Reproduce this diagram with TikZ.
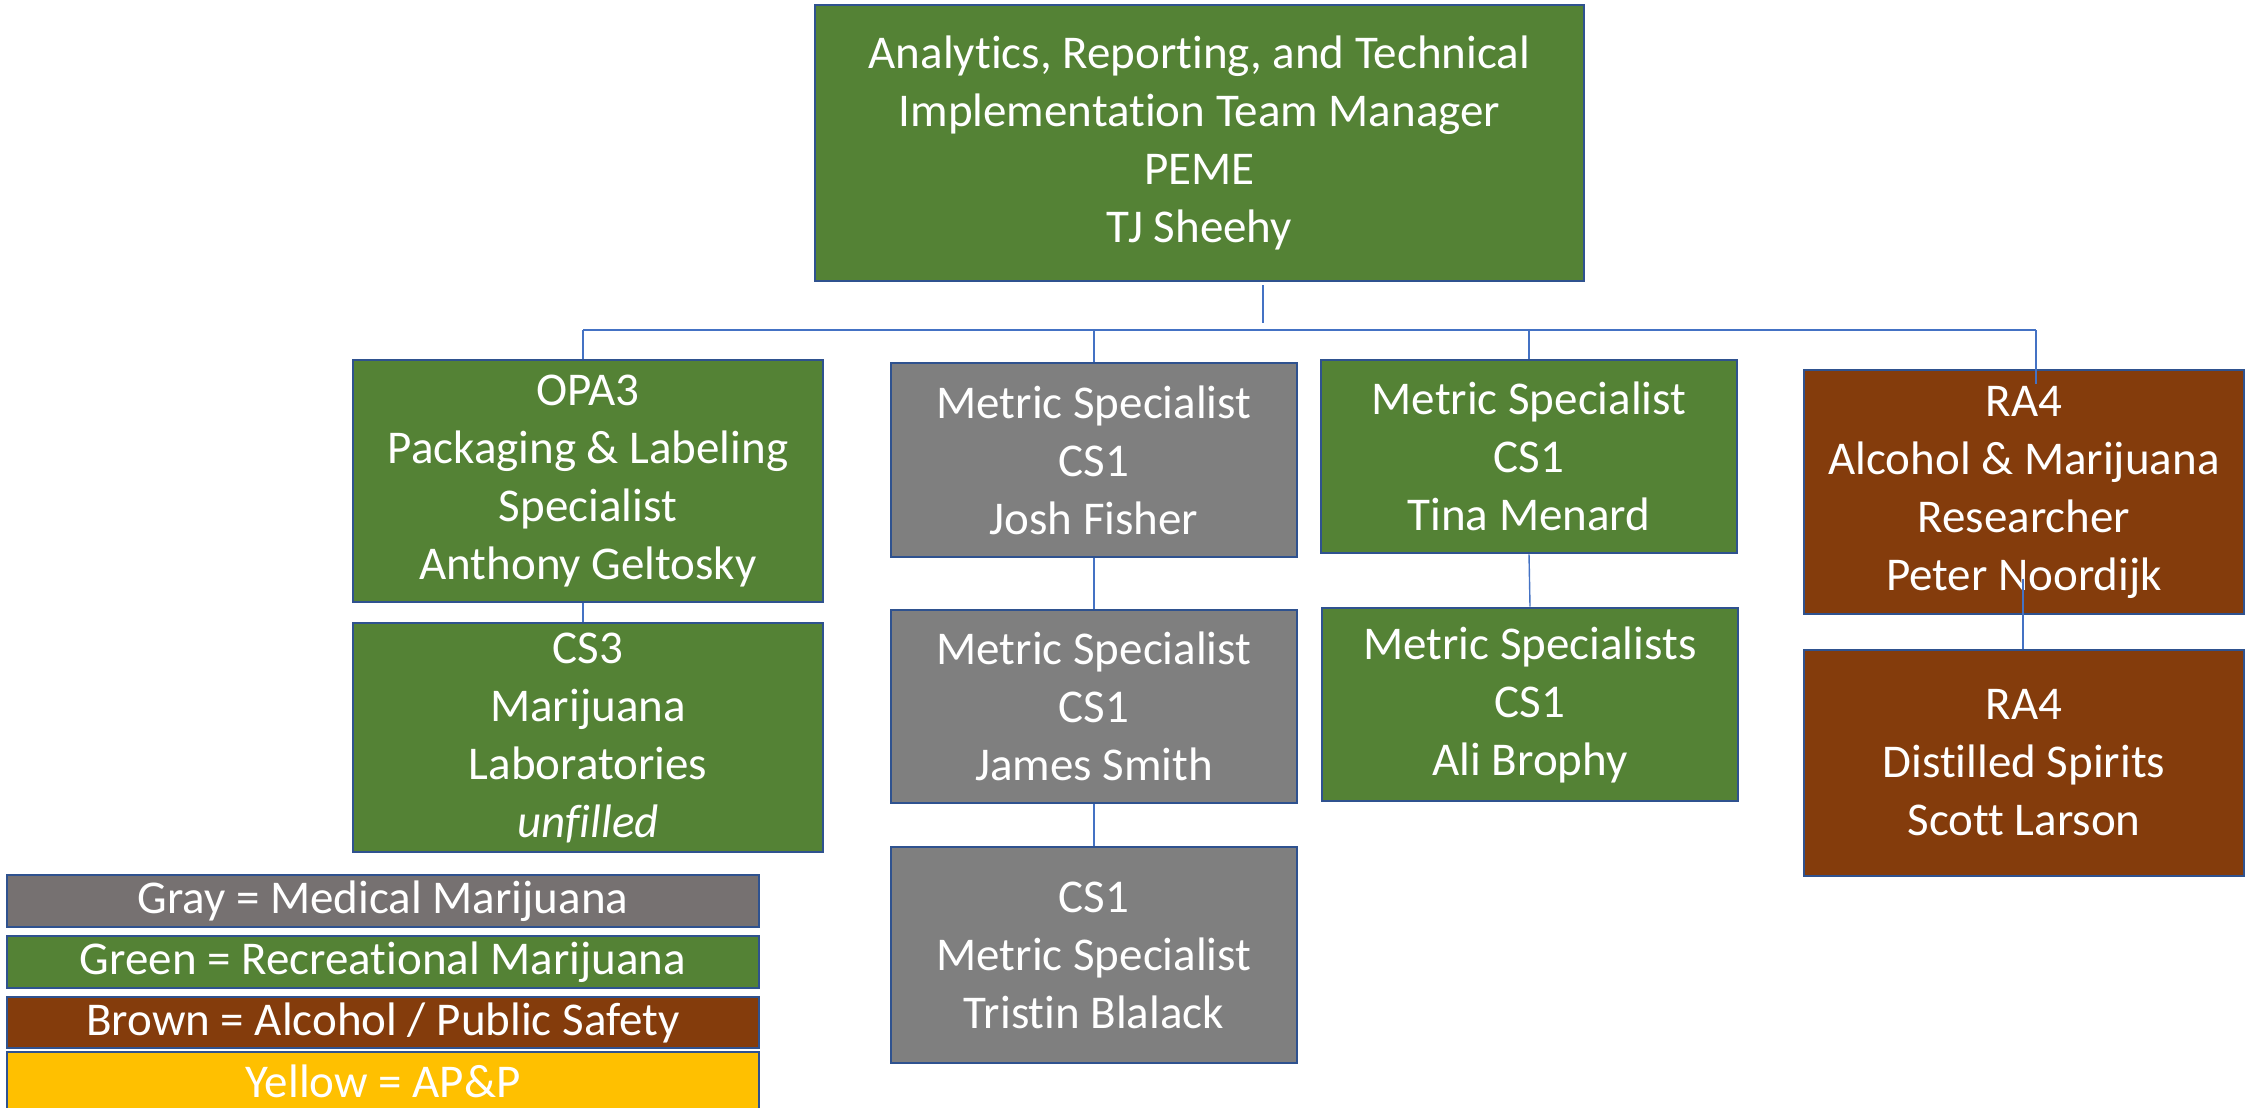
\documentclass[tikz,border=0pt]{standalone}
\usepackage{fontspec}
\setmainfont[Ligatures=NoCommon]{Carlito}
\definecolor{bordblue}{HTML}{2F528F}
\definecolor{linkblue}{HTML}{4472C4}
\definecolor{recgreen}{HTML}{548235}
\definecolor{medgray}{HTML}{7F7F7F}
\definecolor{keygray}{HTML}{767171}
\definecolor{alcbrown}{HTML}{843C0C}
\definecolor{apyellow}{HTML}{FFC000}
\begin{document}
\begin{tikzpicture}[x=0.5pt,y=-0.5pt,
  orgbox/.style={draw=bordblue, line width=1.3pt, text=white, align=center,
    inner sep=0pt, font=\fontsize{23.5}{29}\selectfont},
  keybox/.style={draw=bordblue, line width=1.3pt, text=white, align=center,
    inner sep=0pt, minimum width=376pt, font=\fontsize{23.5}{28}\selectfont},
  conn/.style={draw=linkblue, line width=0.7pt}]
\clip (0,0) rectangle (2246,1107);
\fill[white] (0,0) rectangle (2246,1107);

% manager
\node[orgbox, fill=recgreen, minimum width=384.5pt, minimum height=138pt] (top) at (1199.5,143)
  {Analytics, Reporting, and Technical\\Implementation Team Manager\\PEME\\TJ Sheehy};

% packaging and laboratories column
\node[orgbox, fill=recgreen, minimum width=235pt, minimum height=121pt] (opa) at (588,481)
  {OPA3\\Packaging \& Labeling\\Specialist\\Anthony Geltosky};
\node[orgbox, fill=recgreen, minimum width=235pt, minimum height=114.5pt] (labs) at (588,737.5)
  {CS3\\Marijuana\\Laboratories\\\textit{unfilled}};

% medical column
\node[orgbox, fill=medgray, minimum width=203pt, minimum height=97pt] (josh) at (1094,460)
  {Metric Specialist\\CS1\\Josh Fisher};
\node[orgbox, fill=medgray, minimum width=203pt, minimum height=96.5pt] (james) at (1094,706.5)
  {Metric Specialist\\CS1\\James Smith};
\node[orgbox, fill=medgray, minimum width=203pt, minimum height=108pt] (tristin) at (1094,955)
  {CS1\\Metric Specialist\\Tristin Blalack};

% recreational column
\node[orgbox, fill=recgreen, minimum width=208pt, minimum height=96.5pt] (tina) at (1529,456.5)
  {Metric Specialist\\CS1\\Tina Menard};
\node[orgbox, fill=recgreen, minimum width=208pt, minimum height=96.5pt] (ali) at (1530,704.5)
  {Metric Specialists\\CS1\\Ali Brophy};

% alcohol column
\node[orgbox, fill=alcbrown, minimum width=220pt, minimum height=122pt] (peter) at (2024,492)
  {RA4\\Alcohol \& Marijuana\\Researcher\\Peter Noordijk};
\node[orgbox, fill=alcbrown, minimum width=220pt, minimum height=113pt] (scott) at (2024,763)
  {RA4\\Distilled Spirits\\Scott Larson};

% colour key
\node[keybox, fill=keygray, minimum height=26pt] (kgray) at (383,901) {Gray = Medical Marijuana};
\node[keybox, fill=recgreen, minimum height=26pt] (kgreen) at (383,962) {Green = Recreational Marijuana};
\node[keybox, fill=alcbrown, minimum height=25.5pt] (kbrown) at (383,1022.5) {Brown = Alcohol / Public Safety};
\node[keybox, fill=apyellow, minimum height=34pt, text depth=0pt] (kyellow) at (383,1086) {\raisebox{5pt}{Yellow = AP\&P}};

% connectors
\coordinate (hub) at (1263,330);
\coordinate (busL) at (583,330);
\coordinate (busR) at (2036,330);
\draw[conn] ([yshift=-1.5pt]top.south -| hub) -- ([yshift=3.5pt]hub);
\draw[conn] (busL) -- (busR);
\draw[conn] (busL) -- (busL |- opa.north);
\draw[conn] (josh.north |- hub) -- (josh.north);
\draw[conn] (tina.north |- hub) -- (tina.north);
\draw[conn] (busR) -- ++(0,54);
\draw[conn] (opa.south -| busL) -- (labs.north -| busL);
\draw[conn] (josh.south) -- (james.north);
\draw[conn] (james.south) -- (tristin.north);
\draw[conn] (tina.south) -- (ali.north);
\draw[conn] ([xshift=-0.5pt]scott.north) ++(0,-70) -- ([xshift=-0.5pt]scott.north);
\end{tikzpicture}
\end{document}
